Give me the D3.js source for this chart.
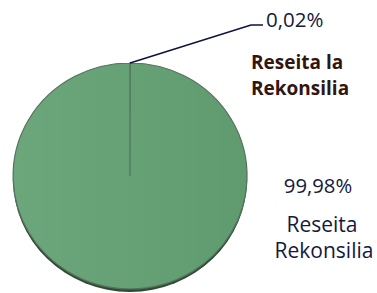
<!DOCTYPE html>
<html>
<head>
<meta charset="utf-8">
<script src="https://cdn.jsdelivr.net/npm/d3@7"></script>
<style>
  body { margin: 0; background: #fff; }
  text { font-family: "Open Sans", "Noto Sans", sans-serif; }
</style>
</head>
<body>
<script>
// chart data
var categories = ["Reseita la Rekonsilia", "Reseita Rekonsilia"];
var values = [0.02, 99.98];
var valueLabels = ["0,02%", "99,98%"];

var width = 377,
    height = 293;

var svg = d3.select("body")
    .append("svg")
    .attr("width", width)
    .attr("height", height);

var defs = svg.append("defs");
var grad = defs.append("linearGradient")
    .attr("id", "pieFill")
    .attr("x1", "0%").attr("y1", "0%")
    .attr("x2", "100%").attr("y2", "0%");
grad.append("stop").attr("offset", "0%").attr("stop-color", "#6ba77b");
grad.append("stop").attr("offset", "100%").attr("stop-color", "#609b70");

var cx = 130, cy = 176, r = 117, ry = 113;

var pie = d3.pie().sort(null).value(function(d){ return d; });
var arc = d3.arc().innerRadius(0).outerRadius(r);
var arcs = pie(values);

var g = svg.append("g")
    .attr("transform", "translate(" + cx + "," + cy + ") scale(1," + (ry / r) + ")");

// shadow under the pie
g.append("circle")
    .attr("cx", 0).attr("cy", 3)
    .attr("r", r)
    .attr("fill", "#2f4a35");

g.selectAll(".slice")
    .data(arcs)
    .enter()
    .append("path")
    .attr("class", "slice")
    .attr("d", arc)
    .attr("fill", "url(#pieFill)")
    .attr("stroke", "#55705c")
    .attr("stroke-width", 1.2)
    .attr("vector-effect", "non-scaling-stroke");

// leader line for the small slice
var a0 = (arcs[0].startAngle + arcs[0].endAngle) / 2;
var p0 = [cx + r * Math.sin(a0), cy - ry * Math.cos(a0)];
svg.append("polyline")
    .attr("points", [p0, [251, 25], [263, 25]].map(function(p){ return p.join(","); }).join(" "))
    .attr("fill", "none")
    .attr("stroke", "#0d1240")
    .attr("stroke-width", 1.6);

svg.append("text")
    .attr("x", 266).attr("y", 27)
    .attr("font-size", 20.5)
    .attr("fill", "#141a3c")
    .text(valueLabels[0]);

var small = svg.append("text")
    .attr("x", 251).attr("y", 69)
    .attr("font-size", 19)
    .attr("font-weight", "bold")
    .attr("fill", "#33150f");
small.append("tspan").attr("x", 251).text("Reseita la");
small.append("tspan").attr("x", 251).attr("dy", 26).text("Rekonsilia");

svg.append("text")
    .attr("x", 318).attr("y", 193)
    .attr("text-anchor", "middle")
    .attr("font-size", 20.3)
    .attr("fill", "#141a3c")
    .text(valueLabels[1]);

var big = svg.append("text")
    .attr("y", 232)
    .attr("text-anchor", "middle")
    .attr("font-size", 21)
    .attr("fill", "#141a3c");
big.append("tspan").attr("x", 322).text("Reseita");
big.append("tspan").attr("x", 324).attr("dy", 26).text("Rekonsilia");
</script>
</body>
</html>
